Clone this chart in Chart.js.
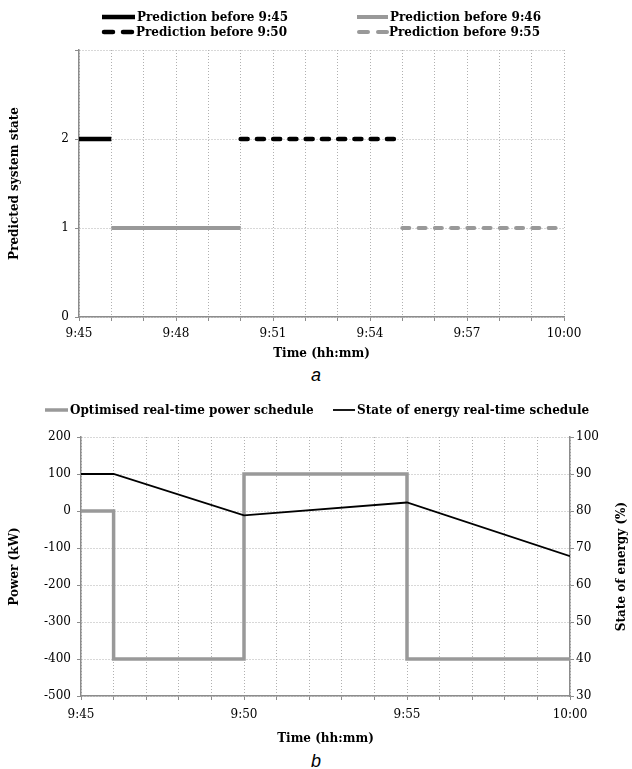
<!DOCTYPE html>
<html>
<head>
<meta charset="utf-8">
<script src="https://cdn.jsdelivr.net/npm/chart.js@4.4.1/dist/chart.umd.min.js"></script>
<style>
  body { margin: 0; background: #fff; width: 632px; height: 769px; position: relative; overflow: hidden; }
  .box { position: absolute; left: 0; width: 632px; }
  .cap { position: absolute; left: 0; width: 632px; text-align: center;
         font: italic 18px 'Liberation Sans', Arial, sans-serif; line-height: 21px; }
</style>
</head>
<body>
<div class="box" style="top:0;height:362px"><canvas id="chartA"></canvas></div>
<div class="cap" style="top:365px">a</div>
<div class="box" style="top:392px;height:354px"><canvas id="chartB"></canvas></div>
<div class="cap" style="top:751px">b</div>
<script>
'use strict';
// data - minutes after 9:45
const pred945Time = [0, 1];
const pred945State = [2, 2];
const pred946Time = [1, 5];
const pred946State = [1, 1];
const pred950Time = [5, 10];
const pred950State = [2, 2];
const pred955Time = [10, 15];
const pred955State = [1, 1];

const powerTime = [0, 1, 5, 10, 15];
const powerKW = [0, -400, 100, -400, -400];
const soeTime = [0, 1, 5, 10, 15];
const soePct = [90, 90, 78.8, 82.3, 67.8];

const serif = "'DejaVu Serif', serif";
const gridCol = '#b0b0b0';
const axisCol = '#8c8c8c';
const grey = '#999999';

Chart.defaults.font.family = serif;
Chart.defaults.color = '#000';
Chart.defaults.animation = false;

function clock(min) {
  const t = 9 * 60 + 45 + min;
  const h = Math.floor(t / 60);
  const m = t % 60;
  return h + ':' + (m < 10 ? '0' + m : m);
}
function pts(xs, ys) {
  return xs.map((x, i) => ({x: x, y: ys[i]}));
}

// legend drawn at fixed spots, style read from the datasets
const lineLegend = {
  id: 'lineLegend',
  afterDraw(chart, args, opts) {
    const ctx = chart.ctx;
    opts.items.forEach(it => {
      const ds = chart.data.datasets[it.ds];
      ctx.save();
      ctx.strokeStyle = ds.borderColor;
      ctx.lineWidth = ds.borderWidth;
      ctx.lineCap = it.cap || 'butt';
      ctx.setLineDash(it.dash || []);
      ctx.beginPath();
      ctx.moveTo(it.x, it.y);
      ctx.lineTo(it.x + it.w, it.y);
      ctx.stroke();
      ctx.setLineDash([]);
      ctx.fillStyle = '#000';
      ctx.font = opts.font;
      ctx.textBaseline = 'middle';
      ctx.fillText(ds.label, it.x + it.w + 2, it.y + 1);
      ctx.restore();
    });
  }
};

// right axis title reading bottom to top
const rightTitle = {
  id: 'rightTitle',
  afterDraw(chart, args, opts) {
    if (!opts.text) return;
    const ctx = chart.ctx;
    const a = chart.chartArea;
    ctx.save();
    ctx.translate(opts.x, (a.top + a.bottom) / 2);
    ctx.rotate(-Math.PI / 2);
    ctx.font = opts.font;
    ctx.fillStyle = '#000';
    ctx.textAlign = 'center';
    ctx.textBaseline = 'middle';
    ctx.fillText(opts.text, 0, 0);
    ctx.restore();
  }
};

const titleFont = {size: 12, weight: 'bold'};
const tickFont = {size: 12};
const boldFont = 'bold 12px ' + serif;

new Chart(document.getElementById('chartA'), {
  type: 'line',
  plugins: [lineLegend],
  data: {
    datasets: [
      {label: 'Prediction before 9:45', data: pts(pred945Time, pred945State),
        borderColor: '#000', borderWidth: 4.5},
      {label: 'Prediction before 9:46', data: pts(pred946Time, pred946State),
        borderColor: grey, borderWidth: 4},
      {label: 'Prediction before 9:50', data: pts(pred950Time, pred950State),
        borderColor: '#000', borderWidth: 4.5, borderDash: [7, 9.25], borderCapStyle: 'round'},
      {label: 'Prediction before 9:55', data: pts(pred955Time, pred955State),
        borderColor: grey, borderWidth: 4, borderDash: [7, 9.25], borderCapStyle: 'round'}
    ]
  },
  options: {
    responsive: true,
    maintainAspectRatio: false,
    layout: {padding: {top: 50, right: 68, left: 0, bottom: 0}},
    elements: {point: {radius: 0}, line: {tension: 0}},
    plugins: {
      legend: {display: false},
      tooltip: {enabled: false},
      lineLegend: {
        font: boldFont,
        items: [
          {ds: 0, x: 102, y: 17, w: 33},
          {ds: 1, x: 357, y: 17, w: 31},
          {ds: 2, x: 104, y: 32, w: 30, dash: [9, 10], cap: 'round'},
          {ds: 3, x: 359, y: 32, w: 28, dash: [9, 10], cap: 'round'}
        ]
      }
    },
    scales: {
      x: {
        type: 'linear', min: 0, max: 15,
        ticks: {stepSize: 1, autoSkip: false, maxRotation: 0, padding: 6, font: tickFont,
          callback: v => (v % 3 === 0 ? clock(v) : '')},
        grid: {color: gridCol, tickLength: 4, tickColor: axisCol},
        border: {color: axisCol, width: 1.5, dash: [1, 2]},
        title: {display: true, text: 'Time (hh:mm)', font: titleFont, padding: {top: 0, bottom: 1}},
        afterFit: s => { s.height = 45; }
      },
      y: {
        min: 0, max: 3,
        ticks: {stepSize: 1, padding: 6, font: tickFont, callback: v => (v === 3 ? '' : v)},
        grid: {color: gridCol, tickLength: 4, tickColor: axisCol},
        border: {color: axisCol, width: 1.5, dash: [1, 2]},
        title: {display: true, text: 'Predicted system state', font: titleFont, padding: {top: 8, bottom: 0}},
        afterFit: s => { s.width = 79; }
      }
    }
  }
});

new Chart(document.getElementById('chartB'), {
  type: 'line',
  plugins: [lineLegend, rightTitle],
  data: {
    datasets: [
      {label: 'Optimised real-time power schedule', data: pts(powerTime, powerKW),
        borderColor: grey, borderWidth: 3.5, stepped: 'before', yAxisID: 'y', order: 1},
      {label: 'State of energy real-time schedule', data: pts(soeTime, soePct),
        borderColor: '#000', borderWidth: 1.8, yAxisID: 'y1', order: 0}
    ]
  },
  options: {
    responsive: true,
    maintainAspectRatio: false,
    layout: {padding: {top: 45, right: 0, left: 0, bottom: 0}},
    elements: {point: {radius: 0}, line: {tension: 0}},
    plugins: {
      legend: {display: false},
      tooltip: {enabled: false},
      lineLegend: {
        font: boldFont,
        items: [
          {ds: 0, x: 45, y: 18, w: 23},
          {ds: 1, x: 333, y: 18, w: 22}
        ]
      },
      rightTitle: {text: 'State of energy (%)', x: 622, font: boldFont}
    },
    scales: {
      x: {
        type: 'linear', min: 0, max: 15,
        ticks: {stepSize: 1, autoSkip: false, maxRotation: 0, padding: 8, font: tickFont,
          callback: v => (v % 5 === 0 ? clock(v) : '')},
        grid: {color: gridCol, tickLength: 4, tickColor: axisCol},
        border: {color: axisCol, width: 1.5, dash: [1, 2]},
        title: {display: true, text: 'Time (hh:mm)', font: titleFont, padding: {top: 0, bottom: 0}},
        afterFit: s => { s.height = 50; }
      },
      y: {
        position: 'left', min: -500, max: 200,
        ticks: {stepSize: 100, padding: 6, font: tickFont},
        grid: {color: gridCol, tickLength: 4, tickColor: axisCol},
        border: {color: axisCol, width: 1.5, dash: [1, 2]},
        title: {display: true, text: 'Power (kW)', font: titleFont, padding: {top: 8, bottom: 0}},
        afterFit: s => { s.width = 81; }
      },
      y1: {
        position: 'right', min: 30, max: 100,
        ticks: {stepSize: 10, padding: 2, font: tickFont},
        grid: {drawOnChartArea: false, tickLength: 4, tickColor: axisCol},
        border: {color: axisCol, width: 1.5},
        afterFit: s => { s.width = 62; }
      }
    }
  }
});
</script>
</body>
</html>
